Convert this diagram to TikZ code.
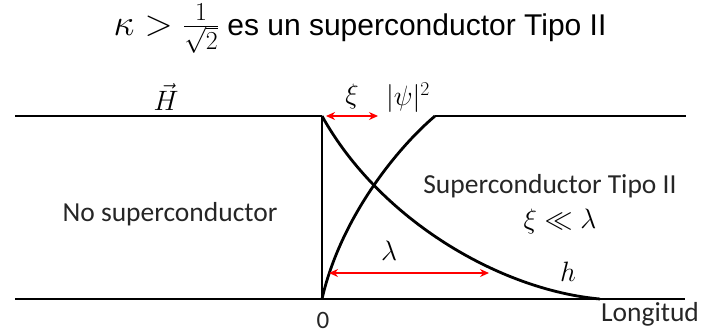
\RequirePackage{fix-cm}
\documentclass[tikz,border=0pt]{standalone}
\usepackage{fontspec}
\setmainfont{Liberation Sans}
\newfontfamily\calib{Carlito}
\usetikzlibrary{arrows.meta}
\tikzset{
  thickline/.style={line width=2.8pt, black},
  redarrow/.style={{Stealth[length=9pt,width=8pt]}-{Stealth[length=9pt,width=8pt]}, line width=1.4pt, red},
  lbl/.style={font=\calib\fontsize{27.5}{30}\selectfont, text=black!85, inner sep=0pt},
  mlbl/.style={font=\fontsize{28}{30}\selectfont, inner sep=0pt}
}
\begin{document}
\begin{tikzpicture}[x=1pt, y=-1pt]
\useasboundingbox (0,0) rectangle (701,333);
\node[font=\fontsize{30}{33}\selectfont, inner sep=0pt] (title) at (360,29) {{\fontsize{37}{40}\selectfont$\kappa > \frac{1}{\sqrt{2}}$} es un superconductor Tipo II};
% frame lines
\coordinate (tl) at (15,116);
\coordinate (o) at (322,116);
\coordinate (b0) at (322,299);
\coordinate (bl) at (15,299);
\coordinate (br) at (685,299);
\coordinate (pk) at (435,116);
\coordinate (tr) at (686,116);
\coordinate (he) at (600,299);
\foreach \a/\b in {tl/o, o/b0, bl/br, pk/tr}
  \draw[thickline] (\a) -- (\b);
% h and |psi|^2
\draw[thickline] (o) .. controls (380,220) and (500,290) .. (he);
\draw[thickline] (b0) .. controls (340,220) and (395,150) .. (pk);
% lengths
\coordinate (xia) at (326,116);
\coordinate (xib) at (378,116);
\coordinate (laa) at (329,273);
\coordinate (lab) at (489,273);
\draw[redarrow] (xia) -- (xib);
\draw[redarrow] (laa) -- (lab);
\node[mlbl] (H) at (166,97) {$\vec{H}$};
\node[mlbl] (xi) at (352,96) {$\xi$};
\node[mlbl] (psi) at (408,98) {$|\psi|^2$};
\node[mlbl] (lam) at (389,251) {$\lambda$};
\node[mlbl] (h) at (568,272) {$h$};
\node[mlbl] (rel) at (560,221) {$\xi \ll \lambda$};
\node[lbl] (sc) at (550,186) {Superconductor Tipo II};
\node[lbl] (nsc) at (170,214) {No superconductor};
\node[lbl, font=\calib\fontsize{25}{28}\selectfont] (zero) at (323,320) {0};
\node[lbl] (len) at (650,314) {Longitud};
\end{tikzpicture}
\end{document}
